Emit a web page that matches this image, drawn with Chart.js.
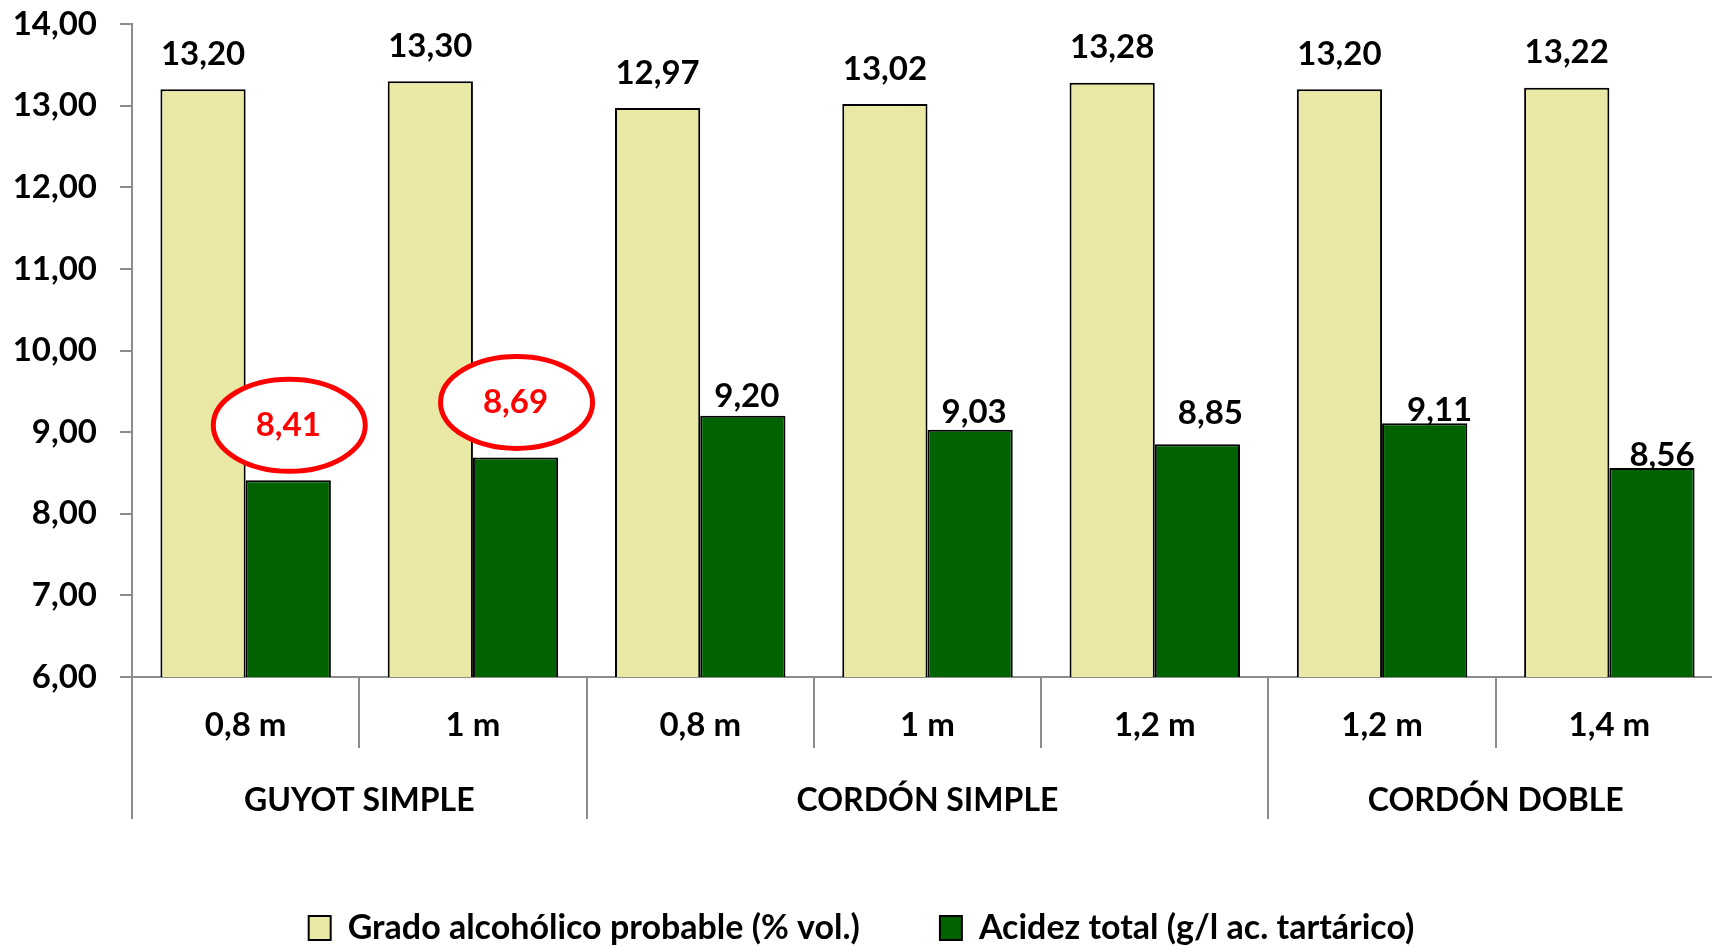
<!DOCTYPE html>
<html lang="es">
<head>
    <meta charset="UTF-8">
    <title>Grado alcohólico y acidez total</title>
    <script src="https://cdn.jsdelivr.net/npm/chart.js"></script>
    <style>
        body { margin: 0; background: #fff; overflow: hidden; }
        /* el gráfico original queda algo cortado por la derecha */
        #wrap { width: 1723px; height: 948px; position: relative; }
    </style>
</head>
<body>
    <div id="wrap"><canvas id="myChart"></canvas></div>

    <script>
        // Datos
        const categorias = ['0,8 m', '1 m', '0,8 m', '1 m', '1,2 m', '1,2 m', '1,4 m'];
        const grupos = ['GUYOT SIMPLE', 'CORDÓN SIMPLE', 'CORDÓN DOBLE'];
        const tamGrupos = [2, 3, 2];
        const gradoAlcoholico = [13.20, 13.30, 12.97, 13.02, 13.28, 13.20, 13.22];
        const acidezTotal = [8.41, 8.69, 9.20, 9.03, 8.85, 9.11, 8.56];
        const destacados = [0, 1]; // valores de acidez marcados en rojo

        const fuente = 'Lato, sans-serif';
        const gris = '#8c8c8c';
        const fmt = v => v.toFixed(2).replace('.', ',');

        // Desplazamientos de las etiquetas de acidez (como en el original)
        const acidezDx = [0, 0, 4, 4, 13, 15, 10];
        const acidezDy = [0, 0, 19, 17, 31, 13, 13];

        // Etiquetas de datos y elipses rojas
        const etiquetas = {
            id: 'etiquetas',
            afterDatasetsDraw(chart) {
                const ctx = chart.ctx;
                ctx.save();
                ctx.font = 'bold 33px ' + fuente;
                ctx.textAlign = 'center';
                ctx.textBaseline = 'middle';
                chart.getDatasetMeta(0).data.forEach((bar, i) => {
                    ctx.fillStyle = '#000';
                    ctx.fillText(fmt(gradoAlcoholico[i]), bar.x, bar.y - 35);
                });
                chart.getDatasetMeta(1).data.forEach((bar, i) => {
                    if (destacados.includes(i)) {
                        const cy = bar.y - 55;
                        ctx.beginPath();
                        ctx.ellipse(bar.x + 1, cy, 76, 46, 0, 0, Math.PI * 2);
                        ctx.fillStyle = '#fff';
                        ctx.fill();
                        ctx.lineWidth = 5;
                        ctx.strokeStyle = '#ff0000';
                        ctx.stroke();
                        ctx.fillStyle = '#ff0000';
                        ctx.fillText(fmt(acidezTotal[i]), bar.x, cy);
                    } else {
                        ctx.fillStyle = '#000';
                        ctx.fillText(fmt(acidezTotal[i]), bar.x + acidezDx[i], bar.y - acidezDy[i]);
                    }
                });
                ctx.restore();
            }
        };

        // Separadores y grupos del eje X
        const ejeGrupos = {
            id: 'ejeGrupos',
            afterDraw(chart) {
                const ctx = chart.ctx;
                const x = chart.scales.x;
                const top = chart.chartArea.bottom;
                const half = (x.getPixelForValue(1) - x.getPixelForValue(0)) / 2;
                ctx.save();
                ctx.strokeStyle = gris;
                ctx.lineWidth = 2;
                // separadores entre categorías
                for (let i = 0; i <= categorias.length; i++) {
                    const px = Math.round(x.getPixelForValue(i) - half);
                    ctx.beginPath();
                    ctx.moveTo(px, top);
                    ctx.lineTo(px, top + 71);
                    ctx.stroke();
                }
                // separadores y nombres de grupo
                ctx.font = 'bold 32px ' + fuente;
                ctx.fillStyle = '#000';
                ctx.textAlign = 'center';
                ctx.textBaseline = 'middle';
                let ini = 0;
                for (let g = 0; g <= grupos.length; g++) {
                    const px = Math.round(x.getPixelForValue(ini) - half);
                    ctx.beginPath();
                    ctx.moveTo(px, top);
                    ctx.lineTo(px, top + 142);
                    ctx.stroke();
                    if (g < grupos.length) {
                        const a = x.getPixelForValue(ini) - half;
                        const b = x.getPixelForValue(ini + tamGrupos[g] - 1) + half;
                        ctx.fillText(grupos[g], (a + b) / 2, top + 124);
                        ini += tamGrupos[g];
                    }
                }
                ctx.restore();
            }
        };

        new Chart(document.getElementById('myChart'), {
            type: 'bar',
            data: {
                labels: categorias,
                datasets: [{
                    label: 'Grado alcohólico probable (% vol.)',
                    data: gradoAlcoholico,
                    backgroundColor: '#e9e8a4',
                    borderColor: '#000',
                    borderWidth: 2,
                    categoryPercentage: 0.75,
                    barPercentage: 1
                }, {
                    label: 'Acidez total (g/l ac. tartárico)',
                    data: acidezTotal,
                    backgroundColor: '#006200',
                    borderColor: '#000',
                    borderWidth: 2,
                    categoryPercentage: 0.75,
                    barPercentage: 1
                }]
            },
            options: {
                responsive: true,
                maintainAspectRatio: false,
                animation: false,
                layout: { padding: { top: 24, right: 0, left: 0, bottom: -7 } },
                scales: {
                    x: {
                        grid: { display: false },
                        border: { display: true, color: gris, width: 2 },
                        ticks: {
                            color: '#000',
                            padding: 21,
                            maxRotation: 0,
                            font: { family: fuente, size: 33, weight: 'bold' }
                        },
                        afterFit: s => { s.height = 154; }
                    },
                    y: {
                        min: 6,
                        max: 14,
                        grid: { drawOnChartArea: false, tickLength: 12, color: gris, lineWidth: 2 },
                        border: { display: true, color: gris, width: 2 },
                        ticks: {
                            stepSize: 1,
                            color: '#000',
                            padding: 23,
                            font: { family: fuente, size: 33, weight: 'bold' },
                            callback: v => fmt(v)
                        },
                        afterFit: s => { s.width = 132; s.paddingTop = 0; s.paddingBottom = 0; }
                    }
                },
                plugins: {
                    tooltip: { enabled: false },
                    legend: {
                        position: 'bottom',
                        labels: {
                            color: '#000',
                            boxWidth: 22,
                            boxHeight: 24,
                            padding: 80,
                            font: { family: fuente, size: 34, weight: 'bold' }
                        }
                    }
                }
            },
            plugins: [etiquetas, ejeGrupos]
        });
    </script>
</body>
</html>
